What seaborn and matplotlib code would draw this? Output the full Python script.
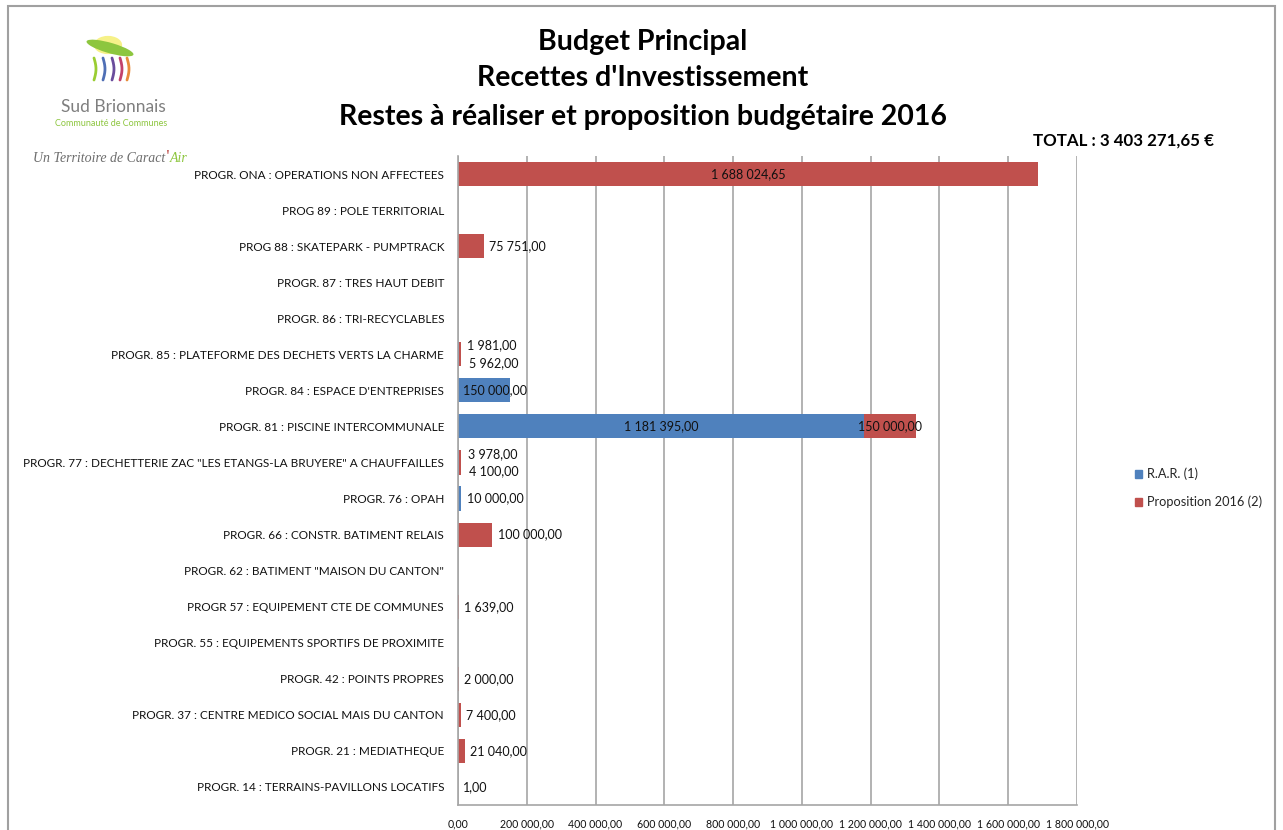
import matplotlib.pyplot as plt
import matplotlib.patches as mpatches
from matplotlib.lines import Line2D
import seaborn as sns
import pandas as pd
import numpy as np

# ============================================================================
# DATA
# ============================================================================
PROGRAMS = [
    'PROGR. ONA : OPERATIONS NON AFFECTEES',
    'PROG 89 : POLE TERRITORIAL',
    'PROG 88 : SKATEPARK - PUMPTRACK',
    'PROGR. 87 : TRES HAUT DEBIT',
    'PROGR. 86 : TRI-RECYCLABLES',
    'PROGR. 85 : PLATEFORME DES DECHETS VERTS LA CHARME',
    "PROGR. 84 : ESPACE D'ENTREPRISES",
    'PROGR. 81 : PISCINE INTERCOMMUNALE',
    'PROGR. 77 : DECHETTERIE ZAC "LES ETANGS-LA BRUYERE" A CHAUFFAILLES',
    'PROGR. 76 : OPAH',
    'PROGR. 66 : CONSTR. BATIMENT RELAIS',
    'PROGR. 62 : BATIMENT "MAISON DU CANTON"',
    'PROGR 57 : EQUIPEMENT CTE DE COMMUNES',
    'PROGR. 55 : EQUIPEMENTS SPORTIFS DE PROXIMITE',
    'PROGR. 42 : POINTS PROPRES',
    'PROGR. 37 : CENTRE MEDICO SOCIAL MAIS DU CANTON',
    'PROGR. 21 : MEDIATHEQUE',
    'PROGR. 14 : TERRAINS-PAVILLONS LOCATIFS',
]

# Restes a realiser (1)
RAR = [0, 0, 0, 0, 0, 1981, 150000, 1181395, 3978, 10000,
       0, 0, 0, 0, 0, 0, 0, 0]
# Proposition 2016 (2)
PROP = [1688024.65, 0, 75751, 0, 0, 5962, 0, 150000, 4100, 0,
        100000, 0, 1639, 0, 2000, 7400, 21040, 1]

SERIES = ['R.A.R. (1)', 'Proposition 2016 (2)']
TITLE = ['Budget Principal', "Recettes d'Investissement",
         'Restes à réaliser et proposition budgétaire 2016']
TOTAL_LABEL = 'TOTAL : 3 403 271,65 €'

COLORS = {'R.A.R. (1)': '#4F81BD', 'Proposition 2016 (2)': '#C0504D'}


def fr(v):
    return f'{v:,.2f}'.replace(',', ' ').replace('.', ',')


df = pd.DataFrame({'Program': PROGRAMS, 'RAR': RAR, 'PROP': PROP})
df['Total'] = df['RAR'] + df['PROP']

# ============================================================================
# FIGURE
# ============================================================================
sns.set_style('white')
plt.rcParams['font.family'] = ['Lato', 'DejaVu Sans']

fig = plt.figure(figsize=(12.83, 8.30), dpi=100)
ax = fig.add_axes([458 / 1283, 1 - 805 / 830, (1077 - 458) / 1283, (805 - 156) / 830])

sns.barplot(data=df, x='Total', y='Program', order=PROGRAMS, orient='h',
            color=COLORS['Proposition 2016 (2)'], width=0.67, linewidth=0,
            saturation=1, ax=ax)
sns.barplot(data=df, x='RAR', y='Program', order=PROGRAMS, orient='h',
            color=COLORS['R.A.R. (1)'], width=0.67, linewidth=0,
            saturation=1, ax=ax)

ax.set_xlim(0, 1800000)
ax.set_xticks(np.arange(0, 1800001, 200000))
ax.set_xticklabels([fr(t) for t in np.arange(0, 1800001, 200000)])
ax.set_xlabel('')
ax.set_ylabel('')
ax.xaxis.grid(True, color='#A6A6A6', linewidth=1.2)
ax.set_axisbelow(True)
for s in ['top', 'right']:
    ax.spines[s].set_visible(False)
for s in ['left', 'bottom']:
    ax.spines[s].set_color('#A6A6A6')
    ax.spines[s].set_linewidth(1.2)
ax.tick_params(axis='y', length=0, pad=10, labelsize=8.5, labelcolor='#111111')
ax.tick_params(axis='x', length=0, pad=10, labelsize=7.6, labelcolor='#111111')

# data labels
LBL = dict(fontsize=9, color='#111111', va='center')
for i in range(len(PROGRAMS)):
    r, p = RAR[i], PROP[i]
    two = 0 < r < 20000 and 0 < p < 20000
    for j, (val, left) in enumerate([(r, 0), (p, r)]):
        if val <= 0:
            continue
        dy = 0 if not two else (-0.24 if j == 0 else 0.24)
        end = left + val
        if two:
            ax.text(end + 25000, i + dy, fr(val), ha='left', **LBL)
        elif val >= 140000 and left + val / 2 > 95000:
            ax.text(left + val / 2, i + dy, fr(val), ha='center', **LBL)
        elif val >= 140000:
            ax.text(15000, i + dy, fr(val), ha='left', **LBL)
        else:
            ax.text(end + 15000, i + dy, fr(val), ha='left', **LBL)

# titles
for k, line in enumerate(TITLE):
    fig.text(643 / 1283, 1 - [42, 78, 117][k] / 830, line, ha='center', va='center',
             fontsize=20.5, fontweight='bold', color='black')
fig.text(1123 / 1283, 1 - 141 / 830, TOTAL_LABEL, ha='center', va='center',
         fontsize=12.2, fontweight='bold', color='black')

# legend
handles = [mpatches.Patch(color=COLORS[s], label=s) for s in SERIES]
fig.legend(handles=handles, loc='center left', bbox_to_anchor=(1123 / 1283, 1 - 488 / 830),
           frameon=False, fontsize=9.2, handlelength=0.55, handleheight=0.55,
           handletextpad=0.4, labelspacing=1.2)

# logo
fig.add_artist(mpatches.Circle((108 / 1283, 1 - 45 / 830), 0.011, transform=fig.transFigure,
                               color='#F4EE6A', alpha=0.8, lw=0))
fig.add_artist(mpatches.Ellipse((110 / 1283, 1 - 48 / 830), 0.04, 0.012, angle=-25,
                                transform=fig.transFigure, color='#8DC63F', lw=0))
for x0, c in zip([94, 103, 112, 120, 127], ['#9ACD32', '#4F6FB5', '#6A4C9C', '#C2416B', '#E88B3A']):
    yy = np.linspace(58, 80, 10)
    xx = x0 + 2 * np.sin((yy - 58) / 22 * np.pi)
    fig.add_artist(Line2D([x / 1283 for x in xx], [1 - y / 830 for y in yy],
                          transform=fig.transFigure, color=c, lw=2, solid_capstyle='round'))
fig.text(113 / 1283, 1 - 107 / 830, 'Sud Brionnais', ha='center', va='center',
         fontsize=12.5, color='#7F7F7F')
fig.text(111 / 1283, 1 - 124 / 830, 'Communauté de Communes', ha='center', va='center',
         fontsize=6.5, color='#8DC63F')
fig.text(33 / 1283, 1 - 158 / 830, 'Un Territoire de Caract', ha='left', va='center',
         fontsize=10, style='italic', color='#6d6d6d', family='Liberation Serif')
fig.text(166 / 1283, 1 - 156 / 830, "'", ha='left', va='center', fontsize=10,
         fontweight='bold', color='#C0504D', family='Liberation Serif')
fig.text(170 / 1283, 1 - 158 / 830, 'Air', ha='left', va='center',
         fontsize=10, style='italic', color='#8DC63F', family='Liberation Serif')

# frame
fig.add_artist(mpatches.Rectangle((8 / 1283, -0.02), (1275 - 8) / 1283, 1 - 6 / 830 + 0.02,
                                  transform=fig.transFigure, fill=False,
                                  edgecolor='#A0A0A0', lw=1.5))

plt.savefig('out.png', dpi=100)
